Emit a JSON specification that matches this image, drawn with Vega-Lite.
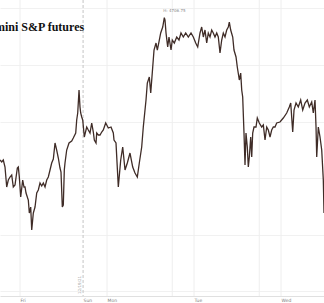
{
  "$schema": "https://vega.github.io/schema/vega-lite/v6.json",
  "width": 324,
  "height": 296,
  "padding": {"left": 0, "top": 0, "right": 0, "bottom": 7},
  "autosize": "none",
  "background": "white",
  "config": {"view": {"stroke": null}},
  "title": {"text": "E-mini S&P futures", "anchor": "start", "frame": "group", "dx": -17, "offset": -43, "baseline": "alphabetic", "font": "Liberation Serif", "fontSize": 12, "fontWeight": "bold", "color": "#111111"},
  "datasets": {
    "es": [
      {"t":-5.52,"p":4656.43},{"t":-5.05,"p":4655.72},{"t":-4.61,"p":4656.43},{"t":-4.14,"p":4653.96},{"t":-3.67,"p":4646.89},{"t":-3.23,"p":4649.36},{"t":-2.76,"p":4650.42},{"t":-2.29,"p":4651.13},{"t":-1.85,"p":4646.89},{"t":-1.38,"p":4647.6},{"t":-0.74,"p":4653.6},{"t":-0.47,"p":4653.96},{"t":-0.19,"p":4650.42},{"t":0.19,"p":4643.36},{"t":0.74,"p":4649.36},{"t":1.1,"p":4646.89},{"t":1.38,"p":4646.89},{"t":1.66,"p":4644.77},{"t":2.29,"p":4642.3},{"t":2.57,"p":4637.7},{"t":2.95,"p":4639.82},{"t":3.23,"p":4631.7},{"t":3.67,"p":4637.7},{"t":4.14,"p":4639.82},{"t":4.61,"p":4644.77},{"t":5.05,"p":4645.83},{"t":5.52,"p":4648.3},{"t":5.99,"p":4647.24},{"t":6.43,"p":4648.3},{"t":6.9,"p":4646.89},{"t":7.37,"p":4649.36},{"t":7.81,"p":4650.42},{"t":8.28,"p":4652.9},{"t":8.74,"p":4655.37},{"t":9.19,"p":4656.78},{"t":9.66,"p":4662.44},{"t":10.12,"p":4659.96},{"t":10.57,"p":4657.14},{"t":11.03,"p":4653.6},{"t":11.31,"p":4652.19},{"t":11.67,"p":4639.82},{"t":11.94,"p":4640.53},{"t":12.22,"p":4652.9},{"t":12.41,"p":4655.37},{"t":12.88,"p":4659.96},{"t":13.52,"p":4662.44},{"t":14.26,"p":4663.14},{"t":14.7,"p":4664.2},{"t":15.37,"p":4665.97},{"t":15.64,"p":4670.57},{"t":15.92,"p":4673.04},{"t":16.28,"p":4681.17},{"t":16.55,"p":4675.16},{"t":16.74,"p":4673.04},{"t":17.02,"p":4671.63},{"t":17.3,"p":4670.57},{"t":17.74,"p":4664.56},{"t":18.4,"p":4668.09},{"t":18.84,"p":4667.03},{"t":19.31,"p":4665.97},{"t":19.78,"p":4669.51},{"t":20.22,"p":4666.32},{"t":20.5,"p":4663.5},{"t":20.97,"p":4662.44},{"t":21.16,"p":4665.97},{"t":21.6,"p":4665.26},{"t":22.07,"p":4665.26},{"t":22.54,"p":4666.32},{"t":22.98,"p":4667.03},{"t":23.64,"p":4669.51},{"t":24.36,"p":4667.74},{"t":25.1,"p":4668.09},{"t":25.74,"p":4665.97},{"t":25.93,"p":4663.5},{"t":26.48,"p":4662.44},{"t":27.12,"p":4646.89},{"t":27.78,"p":4656.43},{"t":28.33,"p":4661.02},{"t":28.97,"p":4652.9},{"t":29.6,"p":4655.37},{"t":30.34,"p":4658.9},{"t":31.09,"p":4653.96},{"t":31.72,"p":4651.84},{"t":32.36,"p":4650.42},{"t":32.91,"p":4655.37},{"t":33.57,"p":4661.02},{"t":34.01,"p":4668.09},{"t":34.76,"p":4677.63},{"t":35.12,"p":4683.64},{"t":35.67,"p":4685.76},{"t":36.06,"p":4680.11},{"t":36.61,"p":4689.29},{"t":36.97,"p":4695.3},{"t":37.52,"p":4697.77},{"t":37.88,"p":4695.3},{"t":38.43,"p":4698.83},{"t":38.81,"p":4701.31},{"t":39.37,"p":4703.43},{"t":39.81,"p":4706.75},{"t":40.0,"p":4705.9},{"t":40.28,"p":4701.31},{"t":40.74,"p":4696.36},{"t":41.1,"p":4699.89},{"t":41.66,"p":4695.3},{"t":42.01,"p":4698.83},{"t":42.57,"p":4697.77},{"t":43.23,"p":4699.89},{"t":43.86,"p":4698.83},{"t":44.41,"p":4701.31},{"t":45.05,"p":4699.89},{"t":45.71,"p":4701.31},{"t":46.43,"p":4699.89},{"t":47.17,"p":4701.31},{"t":47.81,"p":4699.89},{"t":48.47,"p":4697.77},{"t":49.02,"p":4696.36},{"t":49.66,"p":4701.31},{"t":50.12,"p":4703.43},{"t":50.57,"p":4699.89},{"t":51.03,"p":4702.37},{"t":51.5,"p":4697.77},{"t":51.94,"p":4701.31},{"t":52.41,"p":4699.89},{"t":52.88,"p":4702.37},{"t":53.32,"p":4701.31},{"t":53.79,"p":4699.89},{"t":54.26,"p":4701.31},{"t":54.7,"p":4699.89},{"t":55.17,"p":4694.24},{"t":55.64,"p":4698.83},{"t":56.08,"p":4701.31},{"t":56.55,"p":4699.89},{"t":57.02,"p":4702.37},{"t":57.46,"p":4703.43},{"t":57.74,"p":4705.19},{"t":58.12,"p":4702.37},{"t":58.68,"p":4699.89},{"t":59.03,"p":4695.3},{"t":59.59,"p":4692.83},{"t":59.94,"p":4689.29},{"t":60.5,"p":4684.7},{"t":60.88,"p":4687.17},{"t":61.16,"p":4681.17},{"t":61.43,"p":4678.69},{"t":61.79,"p":4665.97},{"t":62.07,"p":4654.66},{"t":62.34,"p":4665.97},{"t":62.7,"p":4661.02},{"t":62.98,"p":4653.96},{"t":63.26,"p":4657.49},{"t":63.64,"p":4664.56},{"t":63.92,"p":4657.49},{"t":64.19,"p":4665.97},{"t":64.55,"p":4668.09},{"t":65.1,"p":4668.09},{"t":65.46,"p":4671.27},{"t":66.01,"p":4669.51},{"t":66.68,"p":4668.09},{"t":67.12,"p":4668.8},{"t":67.59,"p":4663.5},{"t":68.06,"p":4668.09},{"t":68.5,"p":4667.03},{"t":68.97,"p":4664.56},{"t":69.43,"p":4667.03},{"t":69.88,"p":4668.09},{"t":70.34,"p":4668.09},{"t":70.81,"p":4669.51},{"t":71.72,"p":4669.86},{"t":72.63,"p":4671.27},{"t":73.57,"p":4673.04},{"t":74.29,"p":4675.16},{"t":74.68,"p":4676.57},{"t":75.23,"p":4666.32},{"t":75.59,"p":4674.1},{"t":76.14,"p":4676.57},{"t":76.77,"p":4675.16},{"t":77.43,"p":4677.63},{"t":77.99,"p":4674.1},{"t":78.62,"p":4676.57},{"t":79.26,"p":4677.63},{"t":79.81,"p":4675.16},{"t":80.47,"p":4676.93},{"t":80.91,"p":4673.04},{"t":81.38,"p":4677.63},{"t":81.66,"p":4668.09},{"t":81.85,"p":4657.49},{"t":82.29,"p":4668.09},{"t":82.76,"p":4664.56},{"t":83.23,"p":4659.96},{"t":83.67,"p":4649.36},{"t":83.86,"p":4637.7}
    ],
    "grid": [{"t":0},{"t":24},{"t":42},{"t":48},{"t":66},{"t":72}],
    "session": [{"t":17.4,"label":"12/19/21","p":4612.3}],
    "high": [{"t":39.81,"p":4706.75,"label":"H: 4706.75"}]
  },
  "layer": [
    {
      "data": {"name": "grid"},
      "mark": {"type": "rule", "color": "#eeeeee", "strokeWidth": 1},
      "encoding": {"x": {"field": "t", "type": "quantitative", "scale": {"domain": [-5.52, 83.86], "nice": false, "zero": false}}}
    },
    {
      "data": {"name": "session"},
      "mark": {"type": "rule", "color": "#c4c4c4", "strokeWidth": 1, "strokeDash": [3, 2]},
      "encoding": {"x": {"field": "t", "type": "quantitative"}}
    },
    {
      "data": {"name": "session"},
      "mark": {"type": "text", "angle": 270, "fontSize": 4, "color": "#999999", "dy": -3, "font": "DejaVu Sans"},
      "encoding": {"x": {"field": "t", "type": "quantitative"}, "y": {"field": "p", "type": "quantitative"}, "text": {"field": "label"}}
    },
    {
      "data": {"name": "es"},
      "mark": {"type": "line", "color": "#3f2c27", "strokeWidth": 1.3, "interpolate": "linear"},
      "encoding": {
        "x": {"field": "t", "type": "quantitative", "scale": {"domain": [-5.52, 83.86], "nice": false, "zero": false},
          "axis": {"values": [0, 17.4, 24, 48, 72], "labelExpr": "datum.value == 0 ? 'Fri' : datum.value == 17.4 ? 'Sun' : datum.value == 24 ? 'Mon' : datum.value == 48 ? 'Tue' : 'Wed'", "title": null, "grid": false, "ticks": false, "domainColor": "#e0e0e0", "labelFontSize": 4.5, "labelColor": "#808080", "labelAlign": "left", "labelBaseline": "top", "labelPadding": 1, "labelFont": "DejaVu Sans"}},
        "y": {"field": "p", "type": "quantitative", "scale": {"domain": [4608.38, 4712.97], "nice": false, "zero": false},
          "axis": {"values": [4610, 4620, 4630, 4640, 4650, 4660, 4670, 4680, 4690, 4700, 4710], "labels": false, "ticks": false, "domain": false, "title": null, "gridColor": "#f1f1f1"}}
      }
    },
    {
      "data": {"name": "high"},
      "mark": {"type": "text", "fontSize": 4, "color": "#888888", "align": "left", "dx": -1, "dy": -7, "font": "DejaVu Sans"},
      "encoding": {"x": {"field": "t", "type": "quantitative"}, "y": {"field": "p", "type": "quantitative"}, "text": {"field": "label"}}
    }
  ]
}
